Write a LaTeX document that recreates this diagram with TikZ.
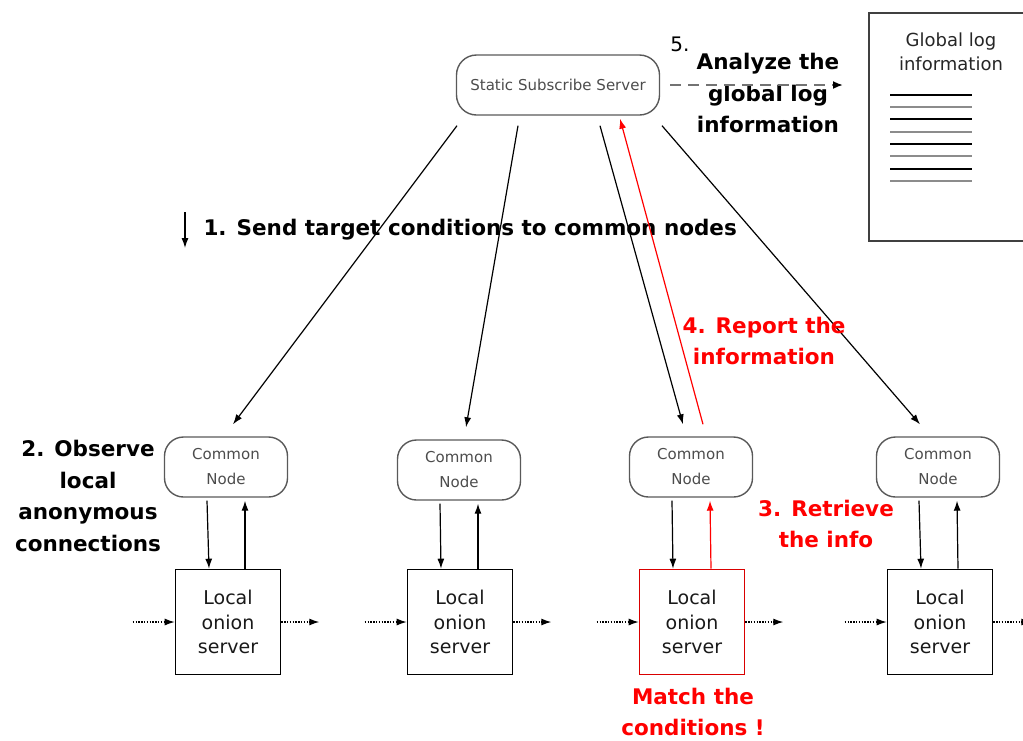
\documentclass[tikz,border=0pt]{standalone}
\usepackage{fontspec}
\setmainfont{DejaVu Sans}
\usetikzlibrary{arrows.meta}
\definecolor{alert}{RGB}{255,0,0}
\tikzset{
  srvbox/.style={draw=black!65, line width=1.4pt, rounded corners=20pt,
    minimum width=203pt, minimum height=60pt, text=black!70,
    font=\fontsize{15}{18}\selectfont},
  cnode/.style={draw=black!65, line width=1.4pt, rounded corners=19pt,
    minimum width=123pt, minimum height=60pt, text=black!70, align=center,
    font=\fontsize{15}{25}\selectfont},
  localbox/.style={draw, line width=1.6pt, minimum width=105pt,
    minimum height=105pt, align=center, text=black!90,
    font=\fontsize{19}{24.5}\selectfont},
  arr/.style={-{Latex[length=10pt,width=7pt]}, line width=1.2pt},
  dotarr/.style={-{Latex[length=10pt,width=7pt]}, line width=1.2pt,
    dash pattern=on 1.4pt off 1.4pt},
  lbl/.style={align=center, font=\bfseries\fontsize{21.5}{31.5}\selectfont},
  redlbl/.style={lbl, text=alert},
}
\begin{document}
\begin{tikzpicture}[x=1pt,y=-1pt]
\useasboundingbox (0,0) rectangle (1023,740);

% server and log sheet
\node[srvbox] (srv) at (558,85) {Static Subscribe Server};
\node[draw=black!75, line width=1.6pt, anchor=north west,
  minimum width=175pt, minimum height=228pt] (doc) at (868,12) {};
\node[align=center, font=\fontsize{18}{24}\selectfont, text=black!85] (doct) at (951,52)
  {Global log\\information};
\foreach \yy/\cc in {95/black,107/black!45,119/black,132/black!45,144/black,156/black!45,169/black,181/black!45}
  \draw[\cc, line width=1.9pt] (890,\yy) -- (972,\yy);

% analyse step
\node[font=\fontsize{20}{24}\selectfont] (s5) at (680,44) {5.};
\node[lbl] (s5t) at (768,93) {Analyze the\\global log\\information};
\coordinate (anaend) at (843,85);
\draw[black!55, dash pattern=on 11pt off 7pt, line width=1.8pt,
  -{Latex[length=10pt,width=8pt,black]}] ([xshift=10pt]srv.east) -- (anaend);

% step 1 label
\coordinate (d1) at (185,212);
\coordinate (d2) at (185,248);
\draw[arr] (d1) -- (d2);
\node[lbl, anchor=west] (s1) at (200,230) {1. Send target conditions to common nodes};

% common nodes
\node[cnode] (c1) at (226,467) {Common\\Node};
\node[cnode] (c2) at (459,470) {Common\\Node};
\node[cnode] (c3) at (691,467) {Common\\Node};
\node[cnode] (c4) at (938,467) {Common\\Node};

% local onion servers
\node[localbox] (l1) at (228,622) {Local\\onion\\server};
\node[localbox] (l2) at (460,622) {Local\\onion\\server};
\node[localbox, draw=alert!85!black] (l3) at (692,622) {Local\\onion\\server};
\node[localbox] (l4) at (940,622) {Local\\onion\\server};

% server to common nodes
\draw[arr] ([shift={(-101,10)}]srv.south) -- ([shift={(7,-12)}]c1.north);
\draw[arr] ([shift={(-40,10)}]srv.south) -- ([shift={(7,-12)}]c2.north);
\draw[arr] ([shift={(42,10)}]srv.south) -- ([shift={(-8,-12)}]c3.north);
\draw[arr] ([shift={(104,10)}]srv.south) -- ([shift={(-18,-12)}]c4.north);
\draw[arr, alert] ([shift={(12,-12)}]c3.north) -- ([shift={(62,3)}]srv.south);

% common nodes to and from local servers
\foreach \n in {1,2,3,4}{
  \draw[arr] ([shift={(-19,3)}]c\n.south) -- ([xshift=-19pt]l\n.north);
}
\draw[arr] ([xshift=17pt]l1.north) -- ([shift={(19,3)}]c1.south);
\draw[arr] ([xshift=18pt]l2.north) -- ([shift={(19,3)}]c2.south);
\draw[arr, alert] ([xshift=19pt]l3.north) -- ([shift={(19,3)}]c3.south);
\draw[arr] ([xshift=18pt]l4.north) -- ([shift={(19,3)}]c4.south);

% onion traffic
\foreach \n in {1,2,3,4}{
  \draw[dotarr] ([xshift=-42pt]l\n.west) -- (l\n.west);
  \draw[dotarr] (l\n.east) -- ([xshift=38pt]l\n.east);
}

% step labels
\node[lbl] (s2) at (88,496) {2. Observe\\local\\anonymous\\connections};
\node[redlbl] (s4) at (764,341) {4. Report the\\information};
\node[redlbl] (s3) at (826,524) {3. Retrieve\\the info};
\node[redlbl] (mt) at (693,712) {Match the\\conditions !};
\end{tikzpicture}
\end{document}
